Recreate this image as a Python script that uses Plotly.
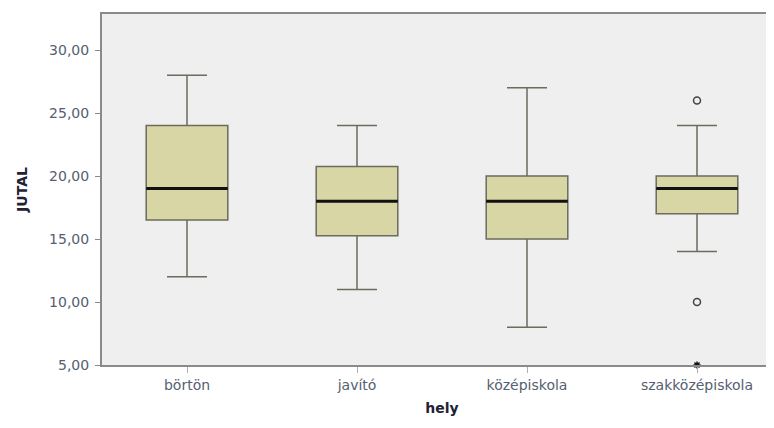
import plotly.graph_objects as go

categories = ["börtön", "javító", "középiskola", "szakközépiskola"]
lower_whisker = [12, 11, 8, 14]
q1 = [16.5, 15.25, 15, 17]
median = [19, 18, 18, 19]
q3 = [24, 20.75, 20, 20]
upper_whisker = [28, 24, 27, 24]

outlier_cat = ["szakközépiskola", "szakközépiskola"]
outlier_val = [26, 10]
extreme_cat = ["szakközépiskola"]
extreme_val = [5]

y_tickvals = [5, 10, 15, 20, 25, 30]
y_ticktext = ["5,00", "10,00", "15,00", "20,00", "25,00", "30,00"]

fig = go.Figure()

fig.add_trace(go.Box(
    x=categories, q1=q1, median=median, q3=q3,
    lowerfence=lower_whisker, upperfence=upper_whisker,
    fillcolor="#D9D6A6", line=dict(color="#6b6b5e", width=1.5),
    whiskerwidth=0.49, width=0.48, boxpoints=False, showlegend=False,
    hoverinfo="skip",
))
# median emphasised as thick dark line
fig.add_trace(go.Box(
    x=categories, q1=median, median=median, q3=median,
    lowerfence=median, upperfence=median,
    fillcolor="rgba(0,0,0,0)", line=dict(color="#111111", width=3),
    whiskerwidth=0, width=0.48, boxpoints=False, showlegend=False,
    hoverinfo="skip",
))
fig.add_trace(go.Scatter(
    x=outlier_cat, y=outlier_val, mode="markers",
    marker=dict(symbol="circle-open", size=7, color="#444444", line=dict(width=1.5)),
    showlegend=False, cliponaxis=False,
))
fig.add_trace(go.Scatter(
    x=extreme_cat, y=extreme_val, mode="markers",
    marker=dict(symbol="asterisk-open", size=6, color="#111111", line=dict(width=1.5)),
    showlegend=False, cliponaxis=False,
))

fig.update_layout(
    width=774, height=428,
    margin=dict(l=94, r=0, t=6, b=71),
    paper_bgcolor="white", plot_bgcolor="#EFEFEF",
    font=dict(family="DejaVu Sans", size=14, color="#556070"),
    showlegend=False,
    xaxis=dict(
        type="category", range=[-0.5, 3.5], automargin=False,
        showline=True, linecolor="#8a8a8a", linewidth=2, mirror=True,
        ticks="outside", ticklen=6, tickcolor="#b0b0b0", tickwidth=1,
        showgrid=False, zeroline=False,
        tickfont=dict(size=14, color="#556070"),
        title=dict(text="<b>hely</b>", font=dict(size=14, color="#222233"), standoff=11),
    ),
    yaxis=dict(
        range=[5, 32.86], tickvals=y_tickvals, ticktext=y_ticktext, automargin=False,
        showline=True, linecolor="#8a8a8a", linewidth=2,
        ticks="outside", ticklen=5, tickcolor="#8a8a8a", tickwidth=1,
        ticklabelstandoff=3,
        showgrid=False, zeroline=False,
        tickfont=dict(size=14, color="#556070"),
        title=dict(text="<b>JUTAL</b>", font=dict(size=14, color="#222233"), standoff=18),
    ),
)

fig.write_html("out.html")
